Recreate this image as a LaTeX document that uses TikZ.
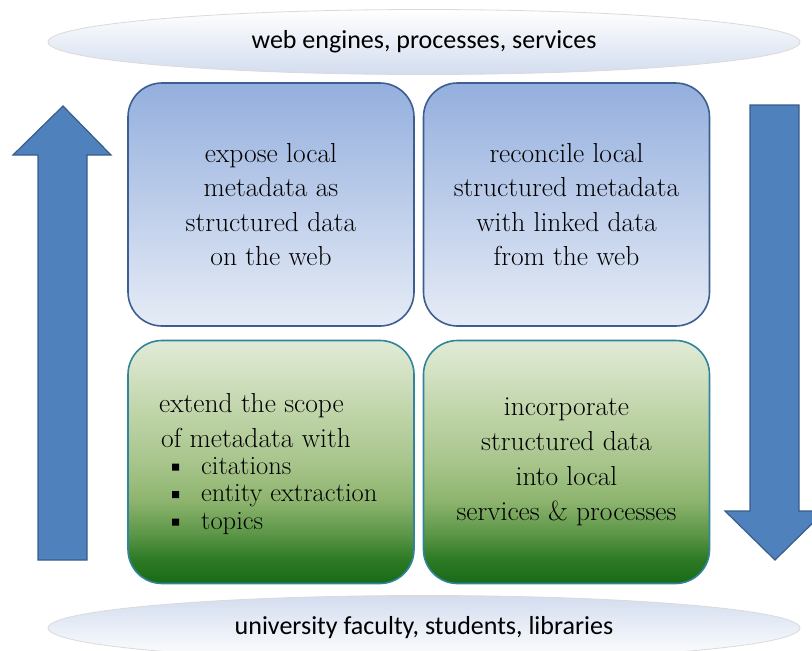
\documentclass[tikz,border=0pt]{standalone}
\usepackage{fontspec}
\newfontfamily\calfont{Carlito}
\usetikzlibrary{shapes.geometric}
\definecolor{arrowfill}{HTML}{4F81BD}
\definecolor{arrowline}{HTML}{385D8A}
\definecolor{blueline}{HTML}{3D5E90}
\definecolor{bluetop}{HTML}{94AFDE}
\definecolor{bluebot}{HTML}{E6ECF6}
\definecolor{greenline}{HTML}{31849B}
\definecolor{ellblue}{HTML}{D3DDEF}
\definecolor{ellline}{HTML}{DADADA}
\definecolor{gA}{HTML}{176A17}
\definecolor{gB}{HTML}{2E7A25}
\definecolor{gC}{HTML}{5A9546}
\definecolor{gD}{HTML}{8DB46E}
\definecolor{gE}{HTML}{A8C58C}
\definecolor{gF}{HTML}{BFD4A8}
\definecolor{gG}{HTML}{D2E1C2}
\definecolor{gH}{HTML}{E0EBD6}
\pgfdeclareverticalshading{greenshade}{100bp}{
  color(0bp)=(gA);
  color(25bp)=(gA);
  color(30bp)=(gB);
  color(35bp)=(gC);
  color(42bp)=(gD);
  color(50bp)=(gE);
  color(60bp)=(gF);
  color(68bp)=(gG);
  color(75bp)=(gH);
  color(100bp)=(gH)}
\tikzset{
  cloud/.style={ellipse, draw=ellline, line width=0.8pt, minimum width=752pt,
    minimum height=65pt, inner sep=0pt, font=\calfont\fontsize{26}{30}\selectfont},
  bluebox/.style={draw=blueline, line width=1.6pt, rounded corners=34pt,
    minimum width=286pt, minimum height=243pt, top color=bluetop, bottom color=bluebot,
    align=center, font=\fontsize{27.5}{34.5}\selectfont},
  greenbox/.style={draw=greenline, line width=1.6pt, rounded corners=34pt,
    minimum width=286pt, minimum height=243pt, shading=greenshade,
    align=center, font=\fontsize{27.5}{35}\selectfont},
  txt/.style={anchor=base west, inner sep=0pt, font=\fontsize{27.5}{30}\selectfont},
  bullettxt/.style={anchor=base west, inner sep=0pt, font=\fontsize{26.5}{28}\selectfont},
  bigarrow/.style={fill=arrowfill, draw=arrowline, line width=1.2pt, line join=miter}
}
\begin{document}
\begin{tikzpicture}[x=1pt,y=-1pt]
\useasboundingbox (0,0) rectangle (812,651);
\clip (0,0) rectangle (812,651);
\node[cloud, top color=white, bottom color=ellblue] (top) at (424,42) {web engines, processes, services};
\node[cloud, top color=ellblue, bottom color=white] (bot) at (424,628) {university faculty, students, libraries};
\draw[bigarrow] (38,560) -- (38,155) -- (13,155) -- (63,106) -- (111,155) -- (87,155) -- (87,560) -- cycle;
\draw[bigarrow] (750,105) -- (799,105) -- (799,511) -- (825,511) -- (775,560) -- (725,511) -- (750,511) -- cycle;
\node[bluebox] (b1) at (271,204.5) {expose local\\metadata as\\structured data\\on the web};
\node[bluebox] (b2) at (566.5,204.5) {reconcile local\\structured metadata\\with linked data\\from the web};
\node[greenbox] (b3) at (271,462) {};
\node[greenbox] (b4) at (566.5,462) {incorporate\\structured data\\into local\\services \& processes};
\node[txt] (l1) at (159,412) {extend the scope};
\node[txt] (l2) at (161,447) {of metadata with};
\node[bullettxt] (l3) at (201,474) {citations};
\node[bullettxt] (l4) at (201,501.5) {entity extraction};
\node[bullettxt] (l5) at (201,529) {topics};
\fill (172,463.5) rectangle (179,470.5) (172,491) rectangle (179,498) (172,518.5) rectangle (179,525.5);
\end{tikzpicture}
\end{document}
